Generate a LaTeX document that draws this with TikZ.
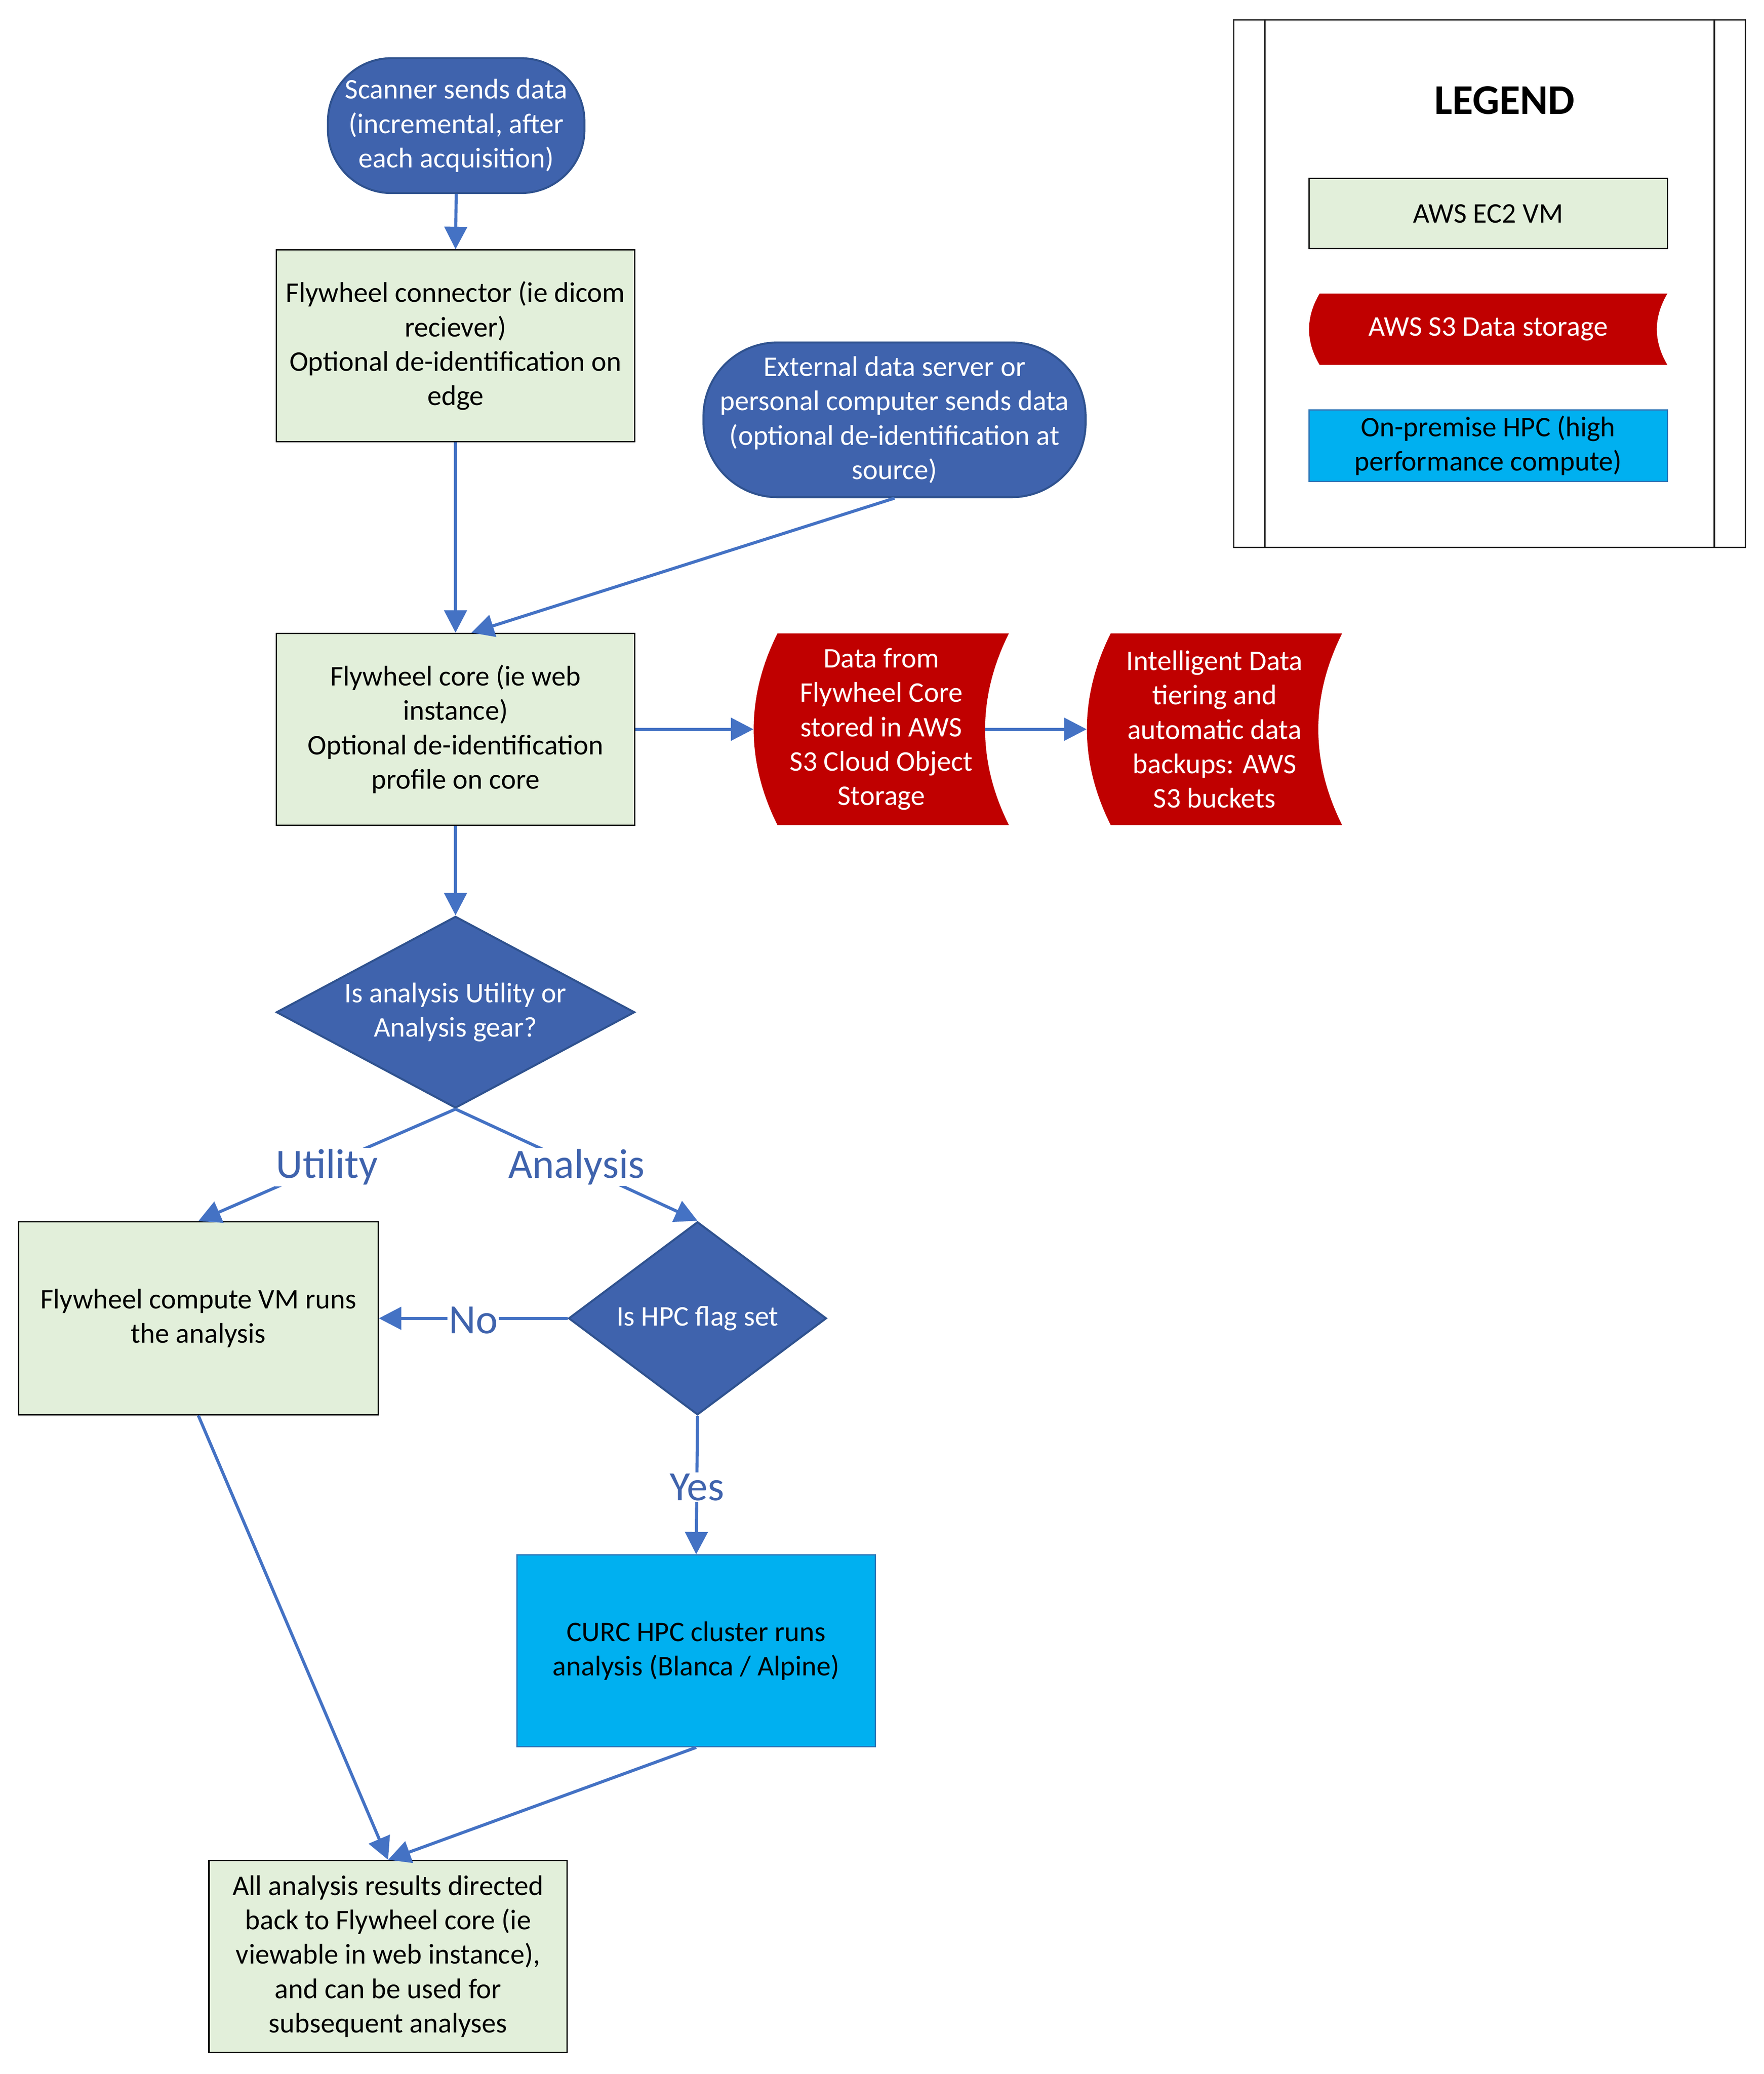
\documentclass[tikz,border=0pt]{standalone}
\usepackage{fontspec}
\setmainfont{Carlito}
\usetikzlibrary{shapes.geometric,arrows.meta,calc}
\definecolor{fwgreen}{HTML}{E2EFDA}
\definecolor{fwblue}{HTML}{3F63AD}
\definecolor{fwblueedge}{HTML}{2F528F}
\definecolor{arrowblue}{HTML}{4472C4}
\definecolor{s3red}{HTML}{C00000}
\definecolor{hpcblue}{HTML}{00B0F0}
\definecolor{hpcedge}{HTML}{2E75B6}
\tikzset{
  txt/.style={font=\fontsize{21.5}{26}\selectfont, align=center},
  vmbox/.style={txt, draw=black, line width=1pt, fill=fwgreen, minimum width=271pt, minimum height=145pt, inner sep=0pt},
  terminal/.style={txt, text=white, draw=fwblueedge, line width=1.5pt, fill=fwblue, rounded corners=#1, inner sep=0pt},
  decision/.style={diamond, draw=fwblueedge, line width=1.5pt, fill=fwblue, inner sep=0pt},
  storage/.style n args={4}{txt, text=white, inner sep=0pt, minimum width=#1, minimum height=#2,
    path picture={%
      \fill[s3red] ([xshift=#3]path picture bounding box.north west)
        .. controls ([xshift=-#3/3,yshift=-#4]path picture bounding box.north west)
        and ([xshift=-#3/3,yshift=#4]path picture bounding box.south west)
        .. ([xshift=#3]path picture bounding box.south west)
        -- (path picture bounding box.south east)
        .. controls ([xshift=-4*#3/3,yshift=#4]path picture bounding box.south east)
        and ([xshift=-4*#3/3,yshift=-#4]path picture bounding box.north east)
        .. (path picture bounding box.north east) -- cycle;}},
  hpcbox/.style={txt, draw=hpcedge, line width=1pt, fill=hpcblue, inner sep=0pt},
  flow/.style={draw=arrowblue, line width=2.3pt, -{Triangle[length=17pt,width=17pt]}},
  edgelabel/.style={font=\fontsize{31.5}{36}\selectfont, text=fwblue, fill=white, inner sep=1pt, yshift=-1.5pt},
}
\begin{document}
\begin{tikzpicture}[x=1pt,y=-1pt]
\useasboundingbox (0,0) rectangle (1334,1568.5);

% main flow nodes
\node[terminal=48pt, minimum width=194pt, minimum height=102pt] (scan) at (345,95)
  {Scanner sends data\\(incremental, after\\each acquisition)};
\node[vmbox] (conn) at (344.5,261.5)
  {Flywheel connector (ie dicom\\reciever)\\Optional de-identification on\\edge};
\node[terminal=56pt, minimum width=289pt, minimum height=117pt] (ext) at (676.5,317.5)
  {External data server or\\personal computer sends data\\(optional de-identification at\\source)};
\node[vmbox] (core) at (344.5,551.5)
  {Flywheel core (ie web\\instance)\\Optional de-identification\\profile on core};
\node[storage={193pt}{145pt}{18pt}{48pt}] (s1) at (666.5,551.5)
  {Data from\\Flywheel Core\\stored in AWS\\S3 Cloud Object\\Storage};
\node[storage={193pt}{145pt}{18pt}{48pt}] (s2) at (918.5,551.5)
  {Intelligent Data\\tiering and\\automatic data\\backups: AWS\\S3 buckets};
\node[decision, minimum width=271pt, minimum height=145pt,
  label={[txt,text=white]center:{Is analysis Utility or\\Analysis gear?}}] (d1) at (344.5,765.5) {};
\node[vmbox, minimum width=272pt, minimum height=146pt] (comp) at (150,997)
  {Flywheel compute VM runs\\the analysis};
\node[decision, minimum width=195pt, minimum height=146pt,
  label={[txt,text=white]center:{Is HPC flag set}}] (d2) at (527.5,997) {};
\node[hpcbox, minimum width=271pt, minimum height=145pt] (hpc) at (526.5,1248.5)
  {CURC HPC cluster runs\\analysis (Blanca / Alpine)};
\node[vmbox] (res) at (293.5,1479.5)
  {All analysis results directed\\back to Flywheel core (ie\\viewable in web instance),\\and can be used for\\subsequent analyses};

% connectors
\draw[flow] (scan.south) -- (conn.north);
\draw[flow] (conn.south) -- (core.north);
\draw[flow] (ext.south) -- ([xshift=12pt]core.north);
\draw[flow] (core.east) -- (s1.west);
\draw[flow] ([xshift=-18pt]s1.east) -- (s2.west);
\draw[flow] (core.south) -- (d1.north);
\draw[flow] (d1.south) -- node[edgelabel] (lutil) {Utility} (comp.north);
\draw[flow] (d1.south) -- node[edgelabel] (lana) {Analysis} (d2.north);
\draw[flow] (d2.west) -- node[edgelabel] (lno) {No} (comp.east);
\draw[flow] (d2.south) -- node[edgelabel] (lyes) {Yes} (hpc.north);
\draw[flow] (comp.south) -- (res.north);
\draw[flow] (hpc.south) -- (res.north);

% legend
\node[draw=black!85, line width=1pt, minimum width=387pt, minimum height=399pt, inner sep=0pt] (leg) at (1126.5,214.5) {};
\draw[black!85, line width=1pt] ([xshift=24pt]leg.north west) -- ([xshift=24pt]leg.south west);
\draw[black!85, line width=1pt] ([xshift=-24pt]leg.north east) -- ([xshift=-24pt]leg.south east);
\node[font=\fontsize{32}{38}\bfseries\selectfont] (legtitle) at (1138,76) {LEGEND};
\node[vmbox, minimum width=271pt, minimum height=53pt] (legec2) at (1125.5,161.5) {AWS EC2 VM};
\node[storage={271pt}{54pt}{8pt}{18pt}] (legs3) at (1125.5,249) {AWS S3 Data storage};
\node[hpcbox, minimum width=271pt, minimum height=54pt] (leghpc) at (1125.5,337)
  {On-premise HPC (high\\performance compute)};
\end{tikzpicture}
\end{document}
